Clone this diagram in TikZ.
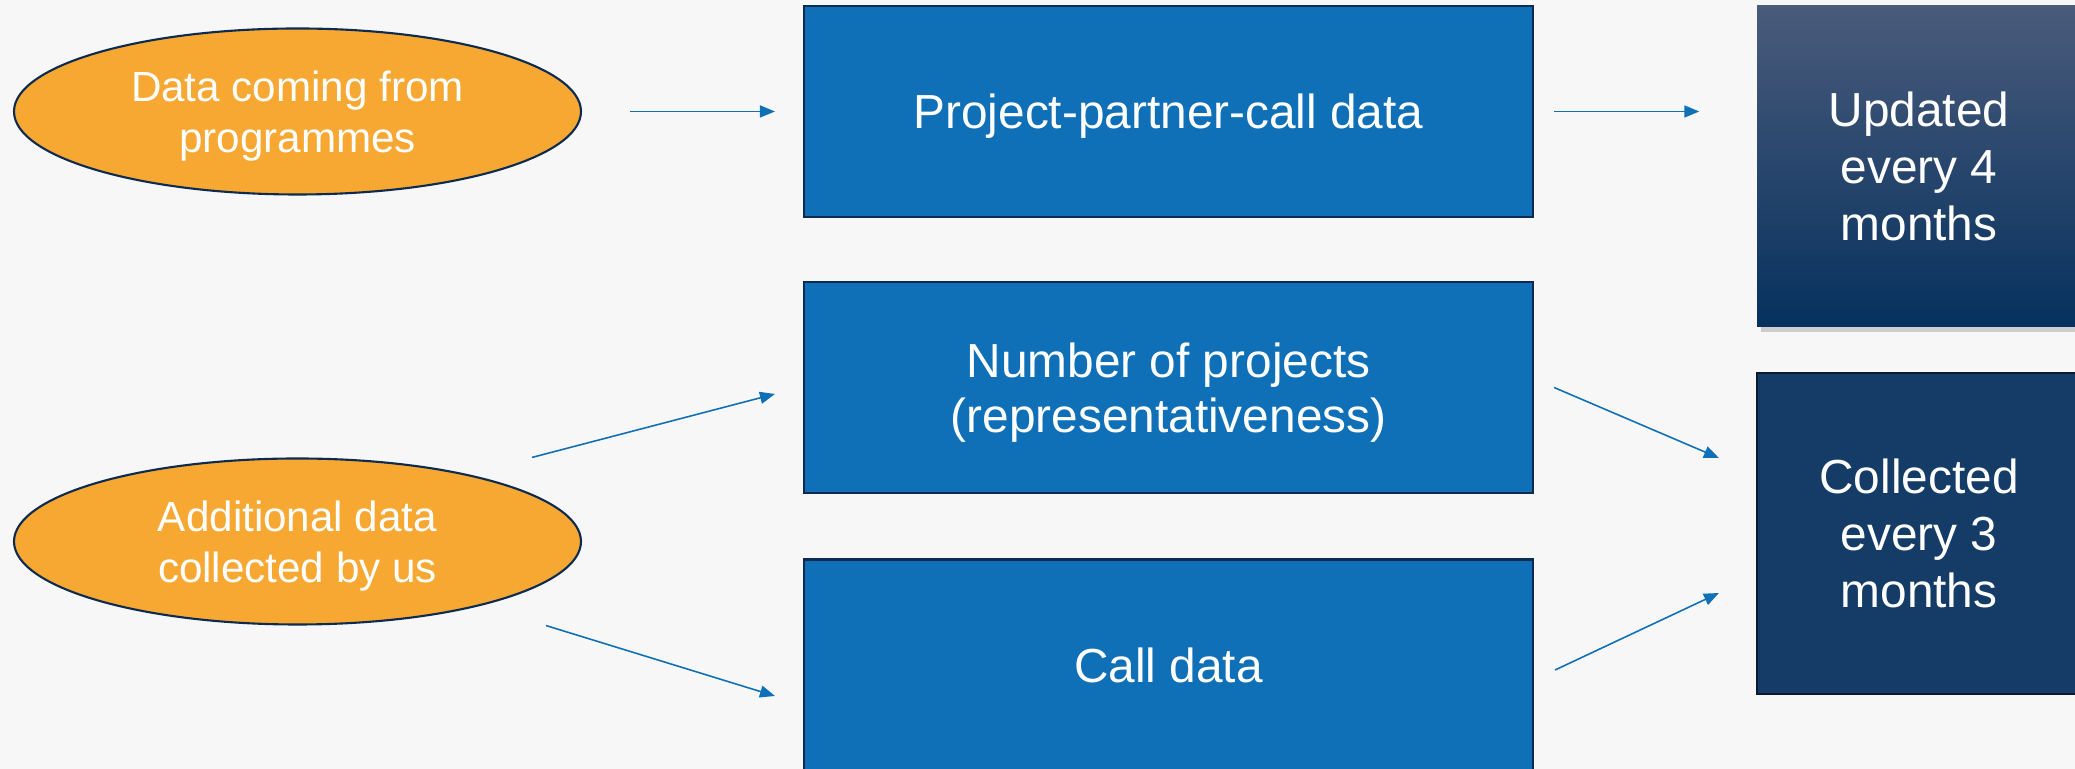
\documentclass[tikz,border=0pt]{standalone}
\usepackage{fontspec}
\setmainfont{Liberation Sans}
\usetikzlibrary{positioning,arrows.meta,shapes.geometric,shadows}

\definecolor{bg}{HTML}{F7F7F7}
\definecolor{boxblue}{HTML}{1070B7}
\definecolor{navy}{HTML}{0D2B50}
\definecolor{srcorange}{HTML}{F7A833}
\definecolor{darkbox}{HTML}{143C66}
\definecolor{darkline}{HTML}{0A1A30}
\definecolor{gradtop}{HTML}{4A5B7B}
\definecolor{gradbot}{HTML}{06315E}

\begin{document}
\begin{tikzpicture}
    \tikzstyle{src} = [ellipse, draw=navy, line width=0.6pt, fill=srcorange, text=white,
        minimum width=5.67cm, minimum height=1.66cm, inner sep=0pt, align=center,
        text depth=0pt, font=\fontsize{12}{14.5}\selectfont]
    \tikzstyle{databox} = [rectangle, draw=navy, line width=0.6pt, fill=boxblue, text=white,
        minimum width=7.29cm, minimum height=2.11cm, inner sep=0pt, align=center,
        text depth=0pt, font=\fontsize{13.6}{15.8}\selectfont]
    \tikzstyle{freq} = [rectangle, text=white, minimum width=3.24cm, minimum height=3.21cm,
        inner sep=0pt, align=center, font=\fontsize{13.6}{16.2}\selectfont]
    \tikzstyle{arr} = [-{Triangle[length=0.15cm, width=0.12cm]}, draw=boxblue, line width=0.45pt]

    \clip (0, 0) rectangle (20.75, -7.69);
    \fill[bg] (0, 0) rectangle (20.75, -7.69);

    \node[src] (prog) at (2.975, -1.115) {Data coming from\\programmes};
    \node[src] (add)  at (2.975, -5.415) {Additional data\\collected by us};

    \node[databox] (ppc)  at (11.685, -1.115) {Project-partner-call data};
    \node[databox] (num)  at (11.685, -3.875) {Number of projects\\(representativeness)};
    \node[databox] (call) at (11.685, -6.65)  {Call data};

    \node[freq, top color=gradtop, bottom color=gradbot,
        drop shadow={shadow xshift=0.04cm, shadow yshift=-0.05cm, opacity=0.35}]
        (upd) at (19.19, -1.665) {Updated\\every 4\\months};
    \node[freq, fill=darkbox, draw=darkline, line width=0.6pt]
        (col) at (19.19, -5.335) {Collected\\every 3\\months};

    \draw[arr, shorten <=0.48cm, shorten >=0.28cm] (prog.east) -- (ppc.west);
    \draw[arr] ([xshift=2.345cm]add.north) -- ([xshift=-0.28cm, yshift=-0.065cm]num.west);
    \draw[arr] ([xshift=2.485cm]add.south) -- ([xshift=-0.28cm, yshift=-0.31cm]call.west);

    \draw[arr, shorten <=0.2cm, shorten >=0.57cm] (ppc.east) -- (ppc.east -| upd.west);
    \draw[arr] ([xshift=0.2cm]num.east)  -- ([xshift=-0.37cm, yshift=0.755cm]col.west);
    \draw[arr] ([xshift=0.21cm, yshift=-0.05cm]call.east) -- ([xshift=-0.37cm, yshift=-0.595cm]col.west);
\end{tikzpicture}
\end{document}
